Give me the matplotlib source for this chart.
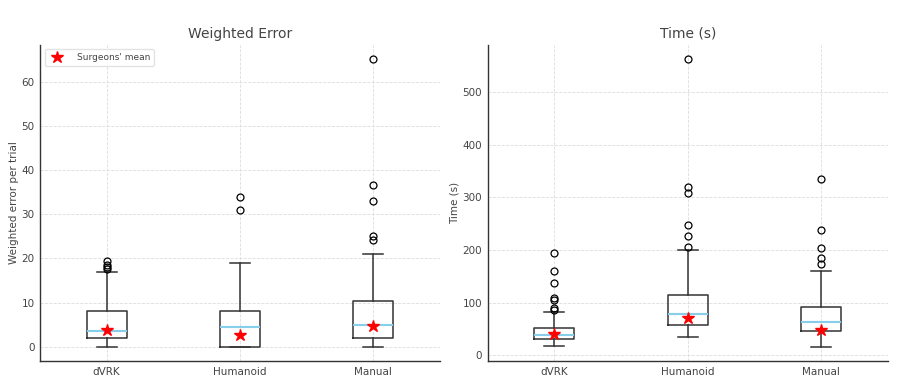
import matplotlib.pyplot as plt

categories = ["dVRK", "Humanoid", "Manual"]

# Weighted error: box stats
err_whislo = [0, 0, 0]
err_q1 = [2.0, 0.0, 2.0]
err_med = [3.5, 4.5, 5.0]
err_q3 = [8.05, 8.05, 10.3]
err_whishi = [17.0, 19.0, 21.0]
err_fliers = [[17.5, 18.0, 18.4, 19.5], [30.9, 34.0], [24.1, 25.0, 33.0, 36.6, 65.1]]
err_mean = [3.7, 2.6, 4.6]

# Time (s)
time_whislo = [17, 34, 16.5]
time_q1 = [30.4, 57.6, 46.9]
time_med = [38.6, 77.9, 62.7]
time_q3 = [51.3, 115.2, 91.9]
time_whishi = [82.3, 200.0, 159.5]
time_fliers = [[86.7, 90.5, 105.7, 109.5, 137.4, 161.0, 195.0],
               [206.4, 226.6, 248.1, 309.0, 319.7, 562.0],
               [172.8, 184.2, 203.2, 238.1, 334.9]]
time_mean = [40.0, 71.6, 48.2]

TXT = "#444444"
EDGE = "#333333"


def make_stats(lo, q1, med, q3, hi, fl):
    stats = []
    for i in range(len(categories)):
        stats.append(dict(whislo=lo[i], q1=q1[i], med=med[i], q3=q3[i],
                          whishi=hi[i], fliers=fl[i], label=categories[i]))
    return stats


def draw_panel(ax, stats, means, title, ylabel, legend=False):
    ax.bxp(stats, positions=[1, 2, 3], widths=0.3, showfliers=True,
           boxprops=dict(color=EDGE, linewidth=1.1),
           whiskerprops=dict(color=EDGE, linewidth=1.1),
           capprops=dict(color=EDGE, linewidth=1.1),
           medianprops=dict(color="#87CEEB", linewidth=1.5),
           flierprops=dict(marker="o", markerfacecolor="none",
                           markeredgecolor="black", markersize=5, markeredgewidth=0.9))
    ax.plot([1, 2, 3], means, linestyle="none", marker="*", color="red",
            markersize=9, label="Surgeons' mean", zorder=5)
    ax.set_title(title, fontsize=10, color=TXT, pad=5)
    ax.set_ylabel(ylabel, fontsize=7.5, color=TXT, labelpad=2)
    ax.grid(True, linestyle="--", color="#dddddd", linewidth=0.6)
    ax.set_axisbelow(True)
    for s in ["top", "right"]:
        ax.spines[s].set_visible(False)
    for s in ["left", "bottom"]:
        ax.spines[s].set_color(EDGE)
        ax.spines[s].set_linewidth(1.0)
    ax.tick_params(length=0, labelsize=7.5, labelcolor=TXT, pad=4)
    ax.set_xlim(0.5, 3.5)
    if legend:
        leg = ax.legend(loc="upper left", fontsize=6.5, frameon=True,
                        edgecolor="#dddddd", fancybox=True, handletextpad=1.2)
        for t in leg.get_texts():
            t.set_color(TXT)


fig = plt.figure(figsize=(8.97, 3.85), dpi=100)
ax1 = fig.add_axes([0.0446, 0.0623, 0.446, 0.821])
ax2 = fig.add_axes([0.5437, 0.0623, 0.446, 0.821])

draw_panel(ax1, make_stats(err_whislo, err_q1, err_med, err_q3, err_whishi, err_fliers),
           err_mean, "Weighted Error", "Weighted error per trial", legend=True)
draw_panel(ax2, make_stats(time_whislo, time_q1, time_med, time_q3, time_whishi, time_fliers),
           time_mean, "Time (s)", "Time (s)")

fig.savefig("out.png", dpi=100)
